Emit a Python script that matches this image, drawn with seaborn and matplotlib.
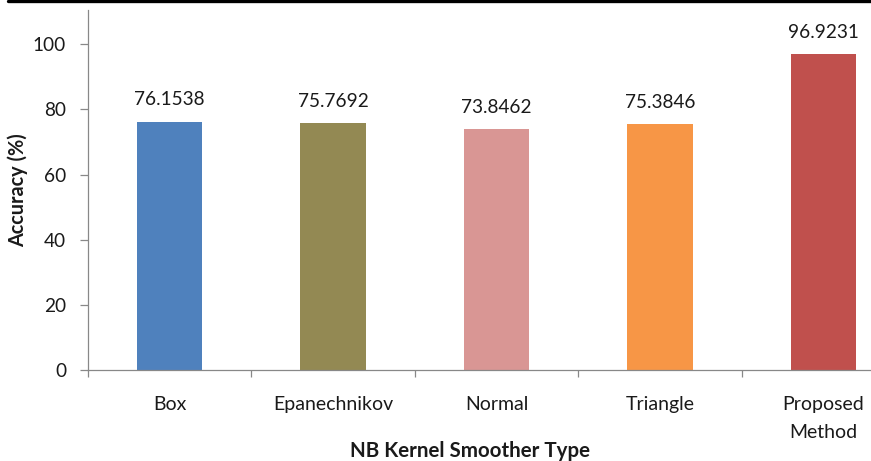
import matplotlib
matplotlib.use("Agg")
import matplotlib.pyplot as plt
import seaborn as sns
import pandas as pd
from matplotlib.lines import Line2D

categories = ["Box", "Epanechnikov", "Normal", "Triangle", "Proposed\nMethod"]
accuracy = [76.1538, 75.7692, 73.8462, 75.3846, 96.9231]
value_labels = ["76.1538", "75.7692", "73.8462", "75.3846", "96.9231"]
colors = ["#4F81BD", "#938953", "#D99694", "#F79646", "#C0504D"]
yticks = [0, 20, 40, 60, 80, 100]

sns.set_style("white")
plt.rcParams["font.family"] = ["Lato", "DejaVu Sans"]

df = pd.DataFrame({"cat": categories, "acc": accuracy})

W, H = 871, 461
fig = plt.figure(figsize=(W / 100, H / 100), dpi=100)
ax = fig.add_axes([88 / W, 1 - 370 / H, 817 / W, 360 / H])

sns.barplot(data=df, x="cat", y="acc", hue="cat", palette=colors,
            width=0.4, legend=False, ax=ax, saturation=1, edgecolor="none")

ax.set_ylim(0, 110.5)
ax.set_xlim(-0.5, 4.5)
ax.set_yticks(yticks)
ax.set_yticklabels([str(v) for v in yticks])

for i, (v, lab) in enumerate(zip(accuracy, value_labels)):
    ax.annotate(lab, xy=(i, v), xytext=(0, 15.8), textcoords="offset points",
                ha="center", va="center", fontsize=13.7, color="#1a1a1a")

for s in ["top", "right"]:
    ax.spines[s].set_visible(False)
for s in ["left", "bottom"]:
    ax.spines[s].set_color("#888888")
    ax.spines[s].set_linewidth(0.9)

ax.tick_params(axis="y", which="major", direction="out", length=5.8, width=0.9,
               color="#888888", pad=10, labelsize=13.7, labelcolor="#1a1a1a", left=True)
ax.tick_params(axis="x", which="major", length=0, pad=19, labelsize=14,
               labelcolor="#1a1a1a")
for t in ax.get_xticklabels():
    t.set_linespacing(1.75)
ax.set_xticks([-0.5, 0.5, 1.5, 2.5, 3.5], minor=True)
ax.tick_params(axis="x", which="minor", direction="out", length=5, width=0.9,
               color="#888888", bottom=True)

ax.set_xlabel("NB Kernel Smoother Type", fontsize=14.8, fontweight="bold",
              color="#1a1a1a", va="top")
ax.xaxis.set_label_coords((470 - 88) / 817, -(441 - 370) / 360)
ax.set_ylabel("Accuracy (%)", fontsize=14.3, fontweight="bold",
              color="#1a1a1a", va="center")
ax.yaxis.set_label_coords((18 - 88) / 817, 0.5)

fig.add_artist(Line2D([8 / W, 1.0], [1 - 1.3 / H, 1 - 1.3 / H],
                      transform=fig.transFigure, color="black", linewidth=2.4))

fig.savefig("out.png", dpi=100)
